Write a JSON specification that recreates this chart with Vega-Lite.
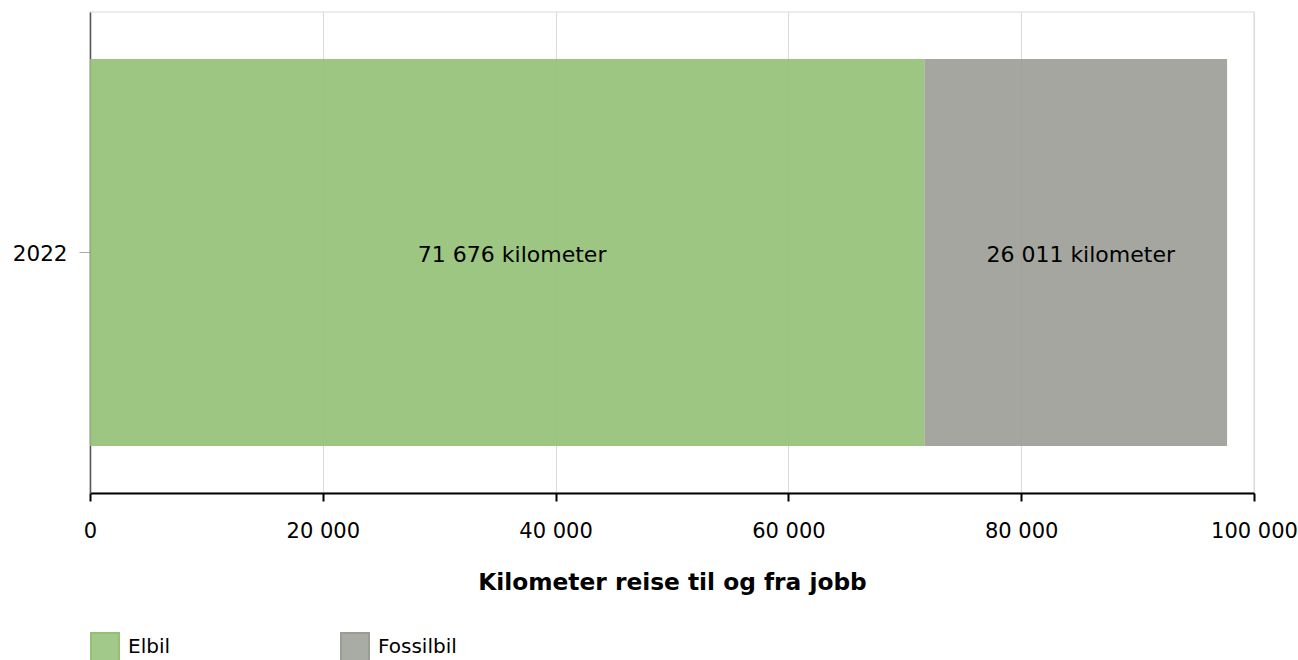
{
  "$schema": "https://vega.github.io/schema/vega-lite/v6.json",
  "autosize": "none",
  "width": 1164,
  "height": 481,
  "padding": {"left": 90, "top": 12, "right": 44, "bottom": 167},
  "background": "white",
  "config": {
    "font": "DejaVu Sans",
    "view": {"stroke": "#e6e6e6", "strokeWidth": 1.5},
    "locale": {
      "number": {"decimal": ",", "thousands": "\u00a0", "grouping": [3], "currency": ["", " kilometer"]}
    }
  },
  "data": {
    "values": [
      {"year": "2022", "type": "Elbil", "km": 71676},
      {"year": "2022", "type": "Fossilbil", "km": 26011}
    ]
  },
  "encoding": {
    "y": {
      "field": "year", "type": "nominal",
      "scale": {"paddingInner": 0, "paddingOuter": 0.1215},
      "axis": {
        "title": null, "labelFontSize": 21.5, "labelColor": "#000", "labelPadding": 12, "labelOffset": 2,
        "tickSize": 11, "tickColor": "#aaa", "domainColor": "#555", "domainWidth": 1.5
      }
    }
  },
  "layer": [
    {
      "mark": {"type": "bar", "fillOpacity": 0.9},
      "encoding": {
        "x": {
          "field": "km", "type": "quantitative", "stack": "zero",
          "scale": {"domain": [0, 100000], "nice": false},
          "axis": {
            "title": "Kilometer reise til og fra jobb",
            "titleFontSize": 23.3, "titleFontWeight": "bold", "titleColor": "#000", "titlePadding": 30,
            "values": [0, 20000, 40000, 60000, 80000, 100000], "format": ",d",
            "labelFontSize": 21, "labelColor": "#000", "labelPadding": 19, "labelOverlap": false, "labelBound": false, "labelFlush": false,
            "tickSize": 8, "tickColor": "#000", "tickWidth": 2, "domainColor": "#000", "domainWidth": 2,
            "grid": true, "gridColor": "#dcdcdc", "gridWidth": 1.2
          }
        },
        "color": {
          "field": "type", "type": "nominal",
          "scale": {"domain": ["Elbil", "Fossilbil"], "range": ["#92c074", "#9a9c95"]},
          "legend": {
            "title": null, "orient": "none", "legendX": 0, "legendY": 620, "direction": "horizontal",
            "symbolType": "square", "symbolSize": 784, "labelFontSize": 20, "labelColor": "#000",
            "labelOffset": 8, "columnPadding": 166,
            "encode": {"symbols": {"update": {"stroke": {"scale": "color", "field": "value"}, "strokeWidth": {"value": 2}, "fillOpacity": {"value": 0.85}}}}
          }
        },
        "order": {"field": "type"}
      }
    },
    {
      "transform": [
        {"stack": "km", "groupby": ["year"], "sort": [{"field": "type"}], "as": ["km0", "km1"]},
        {"fold": ["km0", "km1"], "as": ["edge", "pos"]},
        {"aggregate": [{"op": "mean", "field": "pos", "as": "mid"}], "groupby": ["year", "type", "km"]}
      ],
      "mark": {"type": "text", "fontSize": 22, "color": "#000", "dy": 2, "dx": 5},
      "encoding": {
        "x": {"field": "mid", "type": "quantitative"},
        "text": {"field": "km", "type": "quantitative", "format": "$,d"}
      }
    }
  ]
}
